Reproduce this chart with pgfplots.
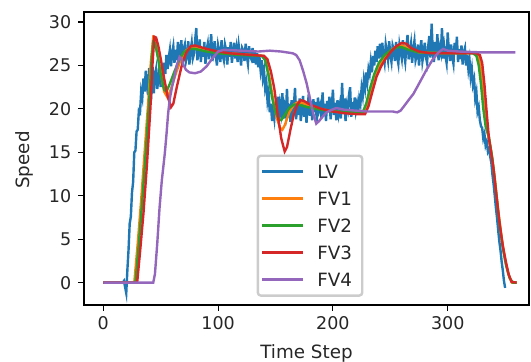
\documentclass[border=0pt]{standalone}
\usepackage{pgfplots}
\pgfplotsset{compat=1.18}
\usepackage{pgfplotstable}
\usepackage{fontspec}
\setmainfont{DejaVu Sans}
\definecolor{c0}{HTML}{1F77B4}
\definecolor{c1}{HTML}{FF7F0E}
\definecolor{c2}{HTML}{2CA02C}
\definecolor{c3}{HTML}{D62728}
\definecolor{c4}{HTML}{9467BD}
\pgfplotstableread{
x y
0 0
1 0
2 0
3 0
4 0
5 0
6 0
7 0
8 0
9 0
10 0
11 0
12 0
13 0
14 0
15 0
16 0
17 0
18 0.2
19 -0.5
20 -1.2
21 1.5
22 3.8
23 6.8
24 7.6
25 10.4
26 11.6
27 15.0
28 15.2
29 17.4
30 17.6
31 19.8
32 19.6
33 22.0
34 21.3
35 23.5
36 22.0
37 24.4
38 22.6
39 21.6
40 24.7
41 23.0
42 22.2
43 24.8
44 21.8
45 23.9
46 24.6
47 22.3
48 23.4
49 25.0
50 22.5
51 24.6
52 23.8
53 25.3
54 24.0
55 26.2
56 24.6
57 25.9
58 26.8
59 24.9
60 26.4
61 27.2
62 25.3
63 26.8
64 25.6
65 27.7
66 25.9
67 26.5
68 27.9
69 25.2
70 26.9
71 27.4
72 25.5
73 26.2
74 27.8
75 25.1
76 26.7
77 27.6
78 25.8
79 26.3
80 27.9
81 29.3
82 25.6
83 26.9
84 28.0
85 25.4
86 27.1
87 26.0
88 27.7
89 25.2
90 26.8
91 27.5
92 25.7
93 27.0
94 28.6
95 25.5
96 26.4
97 27.8
98 26.1
99 25.0
100 27.3
101 26.6
102 25.4
103 27.9
104 26.2
105 25.6
106 27.4
107 26.8
108 25.1
109 27.1
110 26.0
111 27.7
112 25.3
113 26.5
114 27.6
115 25.8
116 26.9
117 25.4
118 27.3
119 26.3
120 25.0
121 27.0
122 26.7
123 25.5
124 27.5
125 26.1
126 25.2
127 27.2
128 26.0
129 25.7
130 27.0
131 25.3
132 26.6
133 25.1
134 26.4
135 24.8
136 26.0
137 24.5
138 25.6
139 23.6
140 24.4
141 22.4
142 23.1
143 21.0
144 21.9
145 19.6
146 20.6
147 18.6
148 19.9
149 18.9
150 20.8
151 19.2
152 21.4
153 18.7
154 20.5
155 19.6
156 21.8
157 18.9
158 20.2
159 19.4
160 22.3
161 19.0
162 20.6
163 18.5
164 21.0
165 19.8
166 20.4
167 22.4
168 18.8
169 20.9
170 19.3
171 21.2
172 18.6
173 20.0
174 21.5
175 19.1
176 20.7
177 18.4
178 20.3
179 21.7
180 19.2
181 20.5
182 18.7
183 21.1
184 19.6
185 20.8
186 18.5
187 21.3
188 19.9
189 20.4
190 18.9
191 21.9
192 19.4
193 20.6
194 18.6
195 20.9
196 19.7
197 21.4
198 18.8
199 20.2
200 22.2
201 19.3
202 20.7
203 18.7
204 21.0
205 19.5
206 20.4
207 18.9
208 23.0
209 19.6
210 21.2
211 18.6
212 20.5
213 19.9
214 21.6
215 22.5
216 19.1
217 20.8
218 19.4
219 21.3
220 19.8
221 20.6
222 19.5
223 21.2
224 20.6
225 22.4
226 21.5
227 23.3
228 22.4
229 24.2
230 23.1
231 24.6
232 24.0
233 25.4
234 24.2
235 26.1
236 25.0
237 26.7
238 25.4
239 27.2
240 25.8
241 27.5
242 25.9
243 27.6
244 26.1
245 25.3
246 27.4
247 26.5
248 25.6
249 27.8
250 26.2
251 25.4
252 27.3
253 26.8
254 25.5
255 27.7
256 26.0
257 25.2
258 27.4
259 26.6
260 25.8
261 27.9
262 26.3
263 25.4
264 27.1
265 28.5
266 25.7
267 26.6
268 27.5
269 25.3
270 26.9
271 27.8
272 25.6
273 26.2
274 27.4
275 25.0
276 26.7
277 27.9
278 25.5
279 26.4
280 27.6
281 26.0
282 25.3
283 27.2
284 28.4
285 25.9
286 29.8
287 26.5
288 25.4
289 27.7
290 26.3
291 28.6
292 25.6
293 27.0
294 26.4
295 29.3
296 25.8
297 27.2
298 26.1
299 25.3
300 28.8
301 26.6
302 25.5
303 27.4
304 26.0
305 25.2
306 27.6
307 26.3
308 28.3
309 25.4
310 26.9
311 25.7
312 27.3
313 25.1
314 26.5
315 27.0
316 25.0
317 26.2
318 24.6
319 25.6
320 23.7
321 24.6
322 22.8
323 23.4
324 21.2
325 21.9
326 19.7
327 20.2
328 18.7
329 18.0
330 17.8
331 16.6
332 17.1
333 15.8
334 16.2
335 15.1
336 15.4
337 14.5
338 13.8
339 12.4
340 11.3
341 10.0
342 8.6
343 7.4
344 6.0
345 4.7
346 3.7
347 2.4
348 1.4
349 0.2
350 -0.6
}\lv
\pgfplotstableread{
x y
0 0
27 0
30 4.5
33 9.5
36 15
39 20.5
41.5 25.5
43.5 28.2
45 28.0
47 26.6
50 24.2
53 22.0
56 21.3
59 22.3
63 24.0
67 25.5
71 26.6
76 27.1
81 27.0
90 26.7
100 26.5
120 26.3
139 26.1
142 25.4
145 23.4
148 21.0
151 19.0
154 17.8
156 17.6
158 18.1
162 19.6
166 20.5
170 20.8
175 20.6
185 20.1
200 19.7
220 19.5
227 19.5
230 20.5
233 22.0
237 23.8
241 25.1
246 26.1
251 26.8
257 27.3
261 27.3
266 26.9
275 26.5
300 26.4
324 26.4
327 26.0
329 24.5
331 22.0
333 19.0
335 17.2
338 15.0
341 12.0
344 8.3
347 5.2
350 2.6
353 0.9
356 0
360 0
}\fvone
\pgfplotstableread{
x y
0 0
28 0
31 4.5
34 9.5
37 15
40 21
42 25.5
43.5 27.7
45 27.6
47 26.3
50 24
53 22.2
55 22.0
58 22.9
62 24.3
66 25.6
70 26.5
75 26.9
80 26.9
90 26.6
100 26.4
120 26.2
138 26.1
141 25.6
144 23.8
147 21.3
150 19.6
153 18.8
155 18.7
158 19.3
162 20.1
166 20.5
170 20.5
175 20.3
185 20.0
200 19.7
220 19.6
226 19.6
229 20.6
232 22.2
236 24.0
240 25.3
245 26.2
250 26.7
256 27.1
260 27.1
266 26.8
275 26.5
300 26.4
322 26.4
325 26.1
327 25.0
329 22.8
331 20.0
333 18.0
336 16.7
339 14.2
342 10.6
345 6.9
348 4.0
351 1.9
354 0.5
357 0
360 0
}\fvtwo
\pgfplotstableread{
x y
0 0
29.5 0
32 3.5
35 8
38 13.5
41 20
43 25.5
44.5 28.3
46 28.2
48 27.2
50 25.8
53 23.5
56 21.5
59 20.2
61 20.6
64 22.5
68 24.8
72 26.4
76 27.2
80 27.3
85 27.1
90 26.9
100 26.6
110 26.4
120 26.3
130 26.2
140 26.1
143 25.7
146 24.3
149 22.3
152 19.3
155 16.6
158 15.1
160 15.6
163 17.6
166 19.4
169 20.5
172 21.0
175 20.9
180 20.5
190 20.0
200 19.7
210 19.5
220 19.4
228 19.4
231 20.3
234 21.8
238 23.7
242 24.9
246 25.8
250 26.5
255 27.2
260 27.6
264 27.5
268 27.0
275 26.6
285 26.4
300 26.4
315 26.4
325 26.4
328 26.2
330 25.3
332 22.8
334 19.5
336 16.5
338 14.8
340 13.0
342 10.5
345 7.0
348 4.2
351 2.2
353 1.0
355.5 0.1
360 0
}\fvthree
\pgfplotstableread{
x y
0 0
43.5 0
45 1
47 4.5
49 8.6
51 11.8
53.6 14.9
55 17
56.5 19.5
58 21.2
60 22.6
62 23.7
64 25.0
66.5 26.0
68 25.8
70 25.0
72 24.5
75 24.2
80 24.1
85 24.3
90 24.9
95 25.8
100 26.6
105 26.8
120 26.7
135 26.6
145 26.7
155 26.6
165 26.4
168 26.2
171 25.6
174 24.4
177 23.0
180 21.2
183 19.4
185.5 18.3
188 18.6
191 19.1
194.5 19.6
199 19.9
203 20.1
210 19.9
220 19.8
230 19.7
245 19.7
252 19.7
256 19.6
259 19.8
263 20.5
267 21.2
270 21.7
275 22.9
281.5 24.5
287 25.7
292 26.5
296 26.9
300 26.7
310 26.6
330 26.5
359 26.5
}\fvfour
\begin{document}
\begin{tikzpicture}
\begin{axis}[
  at={(0,0)}, anchor=south west,
  scale only axis, width=445pt, height=293pt,
  xmin=-16.8, xmax=370.8, ymin=-2.57, ymax=31.15,
  xtick={0,100,200,300}, ytick={0,5,10,15,20,25,30},
  tick align=outside, tick pos=left,
  major tick length=5.8pt,
  every tick/.style={black, line width=1.1pt},
  axis line style={line width=1.1pt, black},
  /pgf/number format/assume math mode=true,
  tick label style={font=\fontsize{17.5}{20}\selectfont, text=black!85},
  yticklabel style={xshift=-2.5pt},
  xticklabel style={yshift=-1.5pt},
  label style={font=\fontsize{18.3}{21}\selectfont, text=black!85},
  xlabel={Time Step}, ylabel={Speed},
  xlabel style={at={(axis description cs:0.5,-0.1638)}, anchor=center},
  ylabel style={at={(axis description cs:-0.1344,0.495)}, anchor=center},
  legend cell align=left,
  legend image code/.code={\draw[#1] (0pt,0pt) -- (41pt,0pt);},
  legend style={at={(0.508,0.028)}, anchor=south,
    draw=black!20, rounded corners=3pt, fill=white, fill opacity=0.8, text opacity=1,
    font=\fontsize{18.3}{21}\selectfont, text=black!85,
    inner xsep=3pt, inner ysep=7.4pt,
    nodes={inner sep=2pt, text height=13pt, text depth=0pt},
    row sep=10pt,
    /tikz/every odd column/.append style={column sep=11pt}},
  line width=2.4pt,
]
\addplot[c0, line width=2.4pt] table[x=x,y=y] {\lv};
\addlegendentry[text width=40pt]{LV}
\addplot[c1, line width=2.4pt] table[x=x,y=y] {\fvone};
\addlegendentry[text width=40pt]{FV1}
\addplot[c2, line width=2.4pt] table[x=x,y=y] {\fvtwo};
\addlegendentry[text width=40pt]{FV2}
\addplot[c3, line width=2.4pt] table[x=x,y=y] {\fvthree};
\addlegendentry[text width=40pt]{FV3}
\addplot[c4, line width=2.4pt] table[x=x,y=y] {\fvfour};
\addlegendentry[text width=40pt]{FV4}
\end{axis}
\pgfresetboundingbox
\path[use as bounding box] (-84pt,-57pt) rectangle (447pt,305pt);
\end{tikzpicture}
\end{document}
